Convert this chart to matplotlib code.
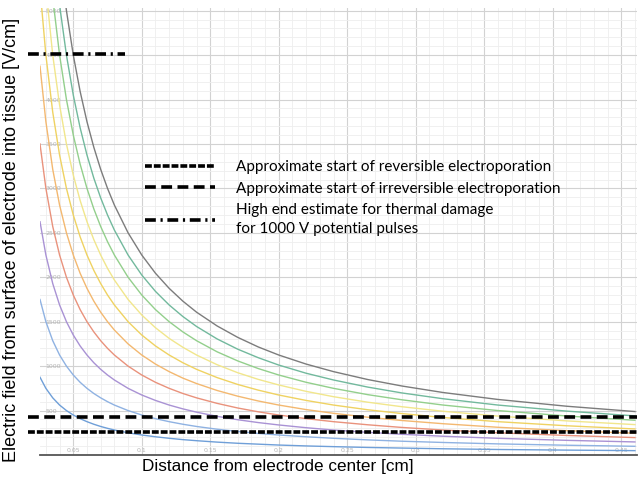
import numpy as np
import matplotlib.pyplot as plt
from matplotlib.ticker import MultipleLocator

# distance from electrode center [cm]
dist = [0.0257, 0.03, 0.035, 0.04, 0.045, 0.05, 0.055, 0.06, 0.065, 0.07,
        0.075, 0.08, 0.09, 0.1, 0.11, 0.12, 0.13, 0.14, 0.155, 0.17,
        0.185, 0.2, 0.22, 0.24, 0.265, 0.29, 0.32, 0.36, 0.41, 0.46]

# electric field [V/cm], one curve per list
field_1 = [875, 750, 643, 562, 500, 450, 409, 375, 346, 321, 300, 281, 250, 225, 205,
           188, 173, 161, 145, 132, 122, 112, 102, 94, 85, 78, 70, 62, 55, 49]
field_2 = [1750, 1500, 1286, 1125, 1000, 900, 818, 750, 692, 643, 600, 562, 500, 450, 409,
           375, 346, 321, 290, 265, 243, 225, 205, 188, 170, 155, 141, 125, 110, 98]
field_3 = [2625, 2250, 1929, 1688, 1500, 1350, 1227, 1125, 1038, 964, 900, 844, 750, 675, 614,
           562, 519, 482, 435, 397, 365, 338, 307, 281, 255, 233, 211, 188, 165, 147]
field_4 = [3500, 3000, 2571, 2250, 2000, 1800, 1636, 1500, 1385, 1286, 1200, 1125, 1000, 900, 818,
           750, 692, 643, 581, 529, 486, 450, 409, 375, 340, 310, 281, 250, 220, 196]
field_5 = [4375, 3750, 3214, 2812, 2500, 2250, 2045, 1875, 1731, 1607, 1500, 1406, 1250, 1125, 1023,
           938, 865, 804, 726, 662, 608, 562, 511, 469, 425, 388, 352, 312, 274, 245]
field_6 = [5250, 4500, 3857, 3375, 3000, 2700, 2455, 2250, 2077, 1929, 1800, 1688, 1500, 1350, 1227,
           1125, 1038, 964, 871, 794, 730, 675, 614, 562, 509, 466, 422, 375, 329, 293]
field_7 = [6128, 5250, 4500, 3938, 3500, 3150, 2864, 2625, 2423, 2250, 2100, 1969, 1750, 1575, 1432,
           1312, 1212, 1125, 1016, 926, 851, 788, 716, 656, 594, 543, 492, 438, 384, 342]
field_8 = [7004, 6000, 5143, 4500, 4000, 3600, 3273, 3000, 2769, 2571, 2400, 2250, 2000, 1800, 1636,
           1500, 1385, 1286, 1161, 1059, 973, 900, 818, 750, 679, 621, 562, 500, 439, 391]
field_9 = [7879, 6750, 5786, 5062, 4500, 4050, 3682, 3375, 3115, 2893, 2700, 2531, 2250, 2025, 1841,
           1688, 1558, 1446, 1306, 1191, 1095, 1012, 920, 844, 764, 698, 633, 562, 494, 440]
field_10 = [8755, 7500, 6429, 5625, 5000, 4500, 4091, 3750, 3462, 3214, 3000, 2812, 2500, 2250, 2045,
            1875, 1731, 1607, 1452, 1324, 1216, 1125, 1023, 938, 849, 776, 703, 625, 549, 489]

curves = [field_1, field_2, field_3, field_4, field_5,
          field_6, field_7, field_8, field_9, field_10]
colors = ["#6f9fd8", "#8fb2e2", "#a992d4", "#e9927c", "#f3b870",
          "#efd262", "#f1e68c", "#93cf8c", "#72b99d", "#7c7c7c"]

reversible = 260     # V/cm
irreversible = 430   # V/cm
thermal = 4515       # V/cm
thermal_x = [0.0169, 0.0877]
line_x = [0.0169, 0.4615]

labels = ["Approximate start of reversible electroporation",
          "Approximate start of irreversible electroporation",
          "High end estimate for thermal damage\nfor 1000 V potential pulses"]

fig = plt.figure(figsize=(6.41, 4.82), dpi=100)
ax = fig.add_axes([40/641, 27/482, 597/641, 447/482])

for vals, c in zip(curves, colors):
    ax.plot(dist, vals, color=c, lw=1.0)

rev, = ax.plot(line_x, [reversible]*2, color="black", lw=2.6,
               dashes=(1.9, 0.55), clip_on=False)
irr, = ax.plot(line_x, [irreversible]*2, color="black", lw=2.6,
               dashes=(3.0, 1.5), clip_on=False)
th, = ax.plot(thermal_x, [thermal]*2, color="black", lw=2.6,
              dashes=(3.0, 1.3, 0.6, 1.3), clip_on=False)

ax.set_xlim(0.0257, 0.4615)
ax.set_ylim(0, 5030)

ax.xaxis.set_major_locator(MultipleLocator(0.05))
ax.xaxis.set_minor_locator(MultipleLocator(0.01))
ax.yaxis.set_major_locator(MultipleLocator(500))
ax.yaxis.set_minor_locator(MultipleLocator(100))
ax.grid(which="major", color="#d2d2d2", lw=0.8)
ax.grid(which="minor", color="#eeeeee", lw=0.6)
ax.set_axisbelow(True)

for s in ["left", "top", "right"]:
    ax.spines[s].set_visible(False)
ax.spines["bottom"].set_color("#555555")
ax.spines["bottom"].set_linewidth(1.3)

ax.tick_params(which="both", length=0)
ax.tick_params(axis="y", pad=-4, labelsize=4.5, labelcolor="#b5b5b5")
ax.tick_params(axis="x", pad=-1.5, labelsize=4.5, labelcolor="#b5b5b5")
ax.set_yticks(np.arange(500, 5001, 500))
ax.set_yticklabels([str(v) for v in range(500, 5001, 500)])
for t in ax.get_yticklabels():
    t.set_horizontalalignment("left")
xt = np.arange(0.05, 0.451, 0.05)
ax.set_xticks(xt)
ax.set_xticklabels(["%g" % round(v, 2) for v in xt])
for t in ax.get_xticklabels():
    t.set_verticalalignment("bottom")

leg = ax.legend([rev, irr, th], labels, loc="upper left",
                bbox_to_anchor=(145/641, 1 - 160/482), bbox_transform=fig.transFigure,
                frameon=False, prop={"family": "Lato", "size": 11},
                handlelength=4.6, handletextpad=1.35, labelspacing=0.5,
                borderpad=0, borderaxespad=0)
for t in leg.get_texts():
    t.set_linespacing(1.45)

fig.text(278/641, 1 - 466/482, "Distance from electrode center [cm]",
         ha="center", va="center", fontsize=12.3, family="Liberation Sans")
fig.text(12/641, 1 - 240/482,
         "Electric field from surface of electrode into tissue [V/cm]",
         ha="center", va="center", rotation=90, fontsize=13,
         family="Liberation Sans")

fig.savefig("out.png", dpi=100)
